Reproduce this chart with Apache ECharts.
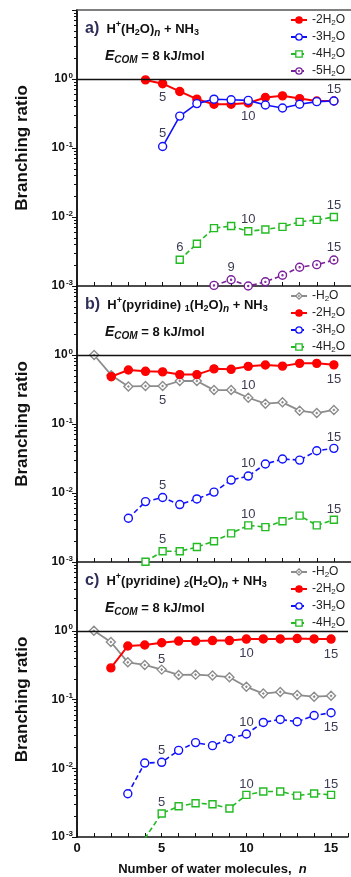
<!DOCTYPE html>
<html>
<head>
<meta charset="utf-8">
<script src="https://cdn.jsdelivr.net/npm/echarts@6/dist/echarts.min.js"></script>
<style>
  html, body { margin: 0; padding: 0; background: #fff; }
  #chart { width: 351px; height: 877px; }
</style>
</head>
<body>
<div id="chart"></div>
<script>
// number of water molecules
const nValues = [1, 2, 3, 4, 5, 6, 7, 8, 9, 10, 11, 12, 13, 14, 15];

// a) H+(H2O)n + NH3
const aLoss2 = [null, null, null, 0.97, 0.855, 0.66, 0.51, 0.43, 0.43, 0.45, 0.54, 0.57, 0.52, 0.48, 0.48];
const aLoss3 = [null, null, null, null, 0.105, 0.29, 0.44, 0.51, 0.50, 0.49, 0.42, 0.38, 0.43, 0.47, 0.48];
const aLoss4 = [null, null, null, null, null, 0.0024, 0.0041, 0.0069, 0.0074, 0.0062, 0.0066, 0.0072, 0.0085, 0.0091, 0.0100];
const aLoss5 = [null, null, null, null, null, null, null, 0.00102, 0.00123, 0.001, 0.00115, 0.00143, 0.00187, 0.00204, 0.00238];

// b) H+(pyridine)1(H2O)n + NH3
const bLoss1 = [1.0, 0.51, 0.35, 0.355, 0.355, 0.42, 0.42, 0.31, 0.31, 0.24, 0.197, 0.206, 0.156, 0.144, 0.16];
const bLoss2 = [null, 0.485, 0.607, 0.58, 0.57, 0.52, 0.52, 0.63, 0.62, 0.685, 0.716, 0.69, 0.757, 0.757, 0.72];
const bLoss3 = [null, null, 0.0043, 0.0075, 0.0086, 0.0068, 0.0082, 0.0103, 0.0154, 0.0176, 0.0263, 0.0311, 0.030, 0.041, 0.0444];
const bLoss4 = [null, null, null, 0.00101, 0.00143, 0.00143, 0.00165, 0.0020, 0.0026, 0.0034, 0.0032, 0.0039, 0.0047, 0.0034, 0.0041];

// c) H+(pyridine)2(H2O)n + NH3
const cLoss1 = [1.0, 0.686, 0.347, 0.318, 0.272, 0.228, 0.23, 0.223, 0.211, 0.153, 0.122, 0.129, 0.116, 0.11, 0.113];
const cLoss2 = [null, 0.288, 0.60, 0.62, 0.67, 0.708, 0.708, 0.72, 0.72, 0.757, 0.76, 0.76, 0.77, 0.76, 0.757];
const cLoss3 = [null, null, 0.00425, 0.0119, 0.0122, 0.0182, 0.0236, 0.0213, 0.0269, 0.0315, 0.0464, 0.0513, 0.0475, 0.0586, 0.0641];
const cLoss4 = [null, null, null, 0.00095, 0.0022, 0.0028, 0.0031, 0.0030, 0.0026, 0.0041, 0.0046, 0.0046, 0.0040, 0.0043, 0.0041];

// legend names
const lossNames = { h1: '-H2O', h2: '-2H2O', h3: '-3H2O', h4: '-4H2O', h5: '-5H2O' };

const FONT = 'Liberation Sans, Arial, sans-serif';

const circleDot = 'path://M0,-5A5,5 0 1,1 0,5A5,5 0 1,1 0,-5Z M0,-0.6A0.6,0.6 0 1,1 0,0.6A0.6,0.6 0 1,1 0,-0.6Z';
const diamondDot = 'path://M0,-5L5,0L0,5L-5,0Z M0,-0.6L0.6,0L0,0.6L-0.6,0Z';

const styles = {
  h1: { color: '#8c8c8c', symbol: diamondDot, size: 9, fill: '#fff', type: 'solid', width: 1.8 },
  h2: { color: '#ff0000', symbol: 'circle', size: 8, fill: '#ff0000', type: 'solid', width: 2 },
  h3: { color: '#1010ff', symbol: 'circle', size: 8, fill: '#fff', type: [5, 3], width: 1.6 },
  h4: { color: '#22bb22', symbol: 'rect', size: 7, fill: '#fff', type: [5, 3], width: 1.6 },
  h5: { color: '#7a1f9a', symbol: circleDot, size: 8, fill: '#fff', type: [5, 3], width: 1.6 }
};

// which points carry the n annotation: [n, position, distance]
const panels = [
  {
    tag: 'a', sub: null, top: 10,
    series: { h2: aLoss2, h3: aLoss3, h4: aLoss4, h5: aLoss5 },
    labels: {
      h2: [[5, 'bottom', 3], [10, 'bottom', 2]],
      h3: [[5, 'top', 2], [15, 'top', 0]],
      h4: [[6, 'top', 2], [10, 'top', 1], [15, 'top', 1]],
      h5: [[9, 'top', 1], [15, 'top', 1]]
    },
    solid3: true
  },
  {
    tag: 'b', sub: '1', top: 286,
    series: { h1: bLoss1, h2: bLoss2, h3: bLoss3, h4: bLoss4 },
    labels: {
      h1: [[5, 'bottom', 3], [10, 'top', 1]],
      h2: [[15, 'bottom', 3]],
      h3: [[5, 'top', 1], [10, 'top', 1], [15, 'top', 0]],
      h4: [[5, 'top', 1], [10, 'top', 0], [15, 'top', 0]]
    }
  },
  {
    tag: 'c', sub: '2', top: 562,
    series: { h1: cLoss1, h2: cLoss2, h3: cLoss3, h4: cLoss4 },
    labels: {
      h2: [[5, 'bottom', 6], [10, 'bottom', 3], [15, 'bottom', 4]],
      h3: [[5, 'top', 1], [10, 'top', 0], [15, 'bottom', 3]],
      h4: [[5, 'top', 0], [10, 'top', 0], [15, 'top', 0]]
    }
  }
];

const PLOT_H = 276;

// log minor ticks 2..9 in each decade, in exponent units
const minorTicks = [];
for (let d = -3; d <= 0; d++) {
  for (let k = 2; k <= 9; k++) minorTicks.push(d + Math.log10(k));
}

const subRich = {
  t: { fontFamily: FONT, fontSize: 12, color: '#222', lineHeight: 16 },
  s: { fontFamily: FONT, fontSize: 8, color: '#222', lineHeight: 16, padding: [6, 0, 0, 0] }
};

const option = {
  animation: false,
  backgroundColor: '#fff',
  title: [],
  legend: [],
  grid: [],
  xAxis: [],
  yAxis: [],
  series: []
};

const titleRich = {
  lab: { fontFamily: FONT, fontSize: 16, fontWeight: 'bold', color: '#2d2d58', lineHeight: 20 },
  t: { fontFamily: FONT, fontSize: 13, color: '#111', lineHeight: 20 },
  sup: { fontFamily: FONT, fontSize: 9, color: '#111', lineHeight: 20, padding: [0, 0, 9, 0] },
  sub: { fontFamily: FONT, fontSize: 9, color: '#111', lineHeight: 20, padding: [8, 0, 0, 0] },
  subi: { fontFamily: FONT, fontSize: 10, fontStyle: 'italic', color: '#111', lineHeight: 20, padding: [8, 0, 0, 0] },
  e: { fontFamily: FONT, fontSize: 14, fontStyle: 'italic', fontWeight: 'bold', color: '#111', lineHeight: 20 },
  com: { fontFamily: FONT, fontSize: 10, fontStyle: 'italic', fontWeight: 'bold', color: '#111', lineHeight: 20, padding: [8, 0, 0, 0] },
  eb: { fontFamily: FONT, fontSize: 13, fontWeight: 'bold', color: '#111', lineHeight: 20 }
};

panels.forEach((p, gi) => {
  option.grid.push({ left: 77, width: 276, top: p.top, height: PLOT_H });

  // headline
  const core = p.sub
    ? '{t|H}{sup|+}{t|(pyridine) }{sub|' + p.sub + '}{t|(H}{sub|2}{t|O)}{subi|n}{t| + NH}{sub|3}'
    : '{t|H}{sup|+}{t|(H}{sub|2}{t|O)}{subi|n}{t| + NH}{sub|3}';
  option.title.push({
    text: '{lab|' + p.tag + ')}{t|  }' + core,
    left: 85, top: p.top + 9, padding: 0,
    textStyle: { rich: titleRich }
  });
  option.title.push({
    text: '{e|E}{com|COM}{eb| = 8 kJ/mol}',
    left: 105, top: p.top + 36, padding: 0,
    textStyle: { rich: titleRich }
  });

  // x axis at the bottom of each panel
  option.xAxis.push({
    type: 'value', gridIndex: gi, min: 0, max: 16, interval: 1,
    axisLine: { show: true, onZero: false, lineStyle: { color: '#111', width: 1.5 } },
    axisTick: { show: true, inside: true, length: 4, lineStyle: { color: '#111', width: 1 } },
    axisLabel: {
      show: gi === 2, margin: 5,
      fontFamily: FONT, fontSize: 13, fontWeight: 'bold', color: '#111',
      formatter: v => (v % 5 === 0 && v <= 15 ? String(v) : '')
    },
    splitLine: { show: false },
    name: gi === 2 ? 'Number of water molecules,  {i|n}' : '',
    nameLocation: 'middle', nameGap: 26,
    nameTextStyle: {
      fontFamily: FONT, fontSize: 13, fontWeight: 'bold', color: '#111',
      rich: { i: { fontFamily: FONT, fontSize: 13, fontWeight: 'bold', fontStyle: 'italic', color: '#111' } }
    }
  });

  // main log axis
  option.yAxis.push({
    type: 'log', logBase: 10, gridIndex: gi, min: 0.001, max: 10, position: 'left',
    axisLine: { show: true, onZero: false, lineStyle: { color: '#111', width: 1.5 } },
    axisTick: { show: true, inside: false, length: 5, lineStyle: { color: '#111', width: 1 } },
    axisLabel: {
      margin: 4,
      formatter: v => {
        const e = Math.round(Math.log10(v));
        return e >= 1 ? '' : '{b|10}{s|' + e + '}';
      },
      rich: {
        b: { fontFamily: FONT, fontSize: 12, fontWeight: 'bold', color: '#111', lineHeight: 14 },
        s: { fontFamily: FONT, fontSize: 8, fontWeight: 'bold', color: '#111', lineHeight: 14, padding: [0, 0, 7, 1] }
      }
    },
    splitLine: { show: false },
    name: 'Branching ratio', nameLocation: 'middle', nameGap: 46,
    nameTextStyle: { fontFamily: FONT, fontSize: 17, fontWeight: 'bold', color: '#111' }
  });

  // legend for this panel
  const keys = Object.keys(p.series);
  option.legend.push({
    orient: 'vertical', left: 290, top: p.top + 3,
    itemWidth: 16, itemHeight: 8, itemGap: 3, padding: 0,
    data: keys.map(k => ({
      name: p.tag + ':' + k,
      itemStyle: { color: styles[k].fill, borderColor: styles[k].color, borderWidth: 1.3 }
    })),
    formatter: name => {
      const k = name.split(':')[1];
      const m = lossNames[k].match(/^-(\d?)H2O$/);
      return '{t|-' + m[1] + 'H}{s|2}{t|O}';
    },
    textStyle: { rich: subRich },
    selectedMode: false
  });

  keys.forEach((k, si) => {
    const st = styles[k];
    const lineType = (k === 'h3' && p.solid3) ? 'solid' : st.type;
    const marks = p.labels[k] || [];
    const data = nValues.map((n, i) => {
      const v = p.series[k][i];
      if (v == null) return [n, null];
      const mk = marks.find(m => m[0] === n);
      if (!mk) return [n, v];
      return {
        value: [n, v],
        label: { show: true, formatter: String(n), position: mk[1], distance: mk[2] }
      };
    });
    const s = {
      name: p.tag + ':' + k,
      type: 'line', xAxisIndex: gi, yAxisIndex: gi,
      data: data,
      symbol: st.symbol, symbolSize: st.size, showAllSymbol: true,
      connectNulls: false, clip: true,
      lineStyle: { color: st.color, width: st.width, type: lineType },
      itemStyle: { color: st.fill, borderColor: st.color, borderWidth: 1.4 },
      label: { show: false, fontFamily: FONT, fontSize: 13, color: '#3c3c55' },
      emphasis: { disabled: true },
      z: 2 + si
    };
    if (si === 0) {
      s.markLine = {
        silent: true, symbol: 'none', animation: false,
        label: { show: false },
        lineStyle: { color: '#111', width: 1.3, type: 'solid' },
        data: [{ yAxis: 1 }]
      };
    }
    option.series.push(s);
  });
});

// extra axes: top border of panel a, log minor ticks (exponent scale, ticks only)
option.xAxis.push({
  type: 'value', gridIndex: 0, position: 'top', min: 0, max: 16,
  axisLine: { show: true, onZero: false, lineStyle: { color: '#555', width: 1.5 } },
  axisTick: { show: false }, axisLabel: { show: false }, splitLine: { show: false }
});
panels.forEach((p, gi) => {
  option.yAxis.push({
    type: 'value', gridIndex: gi, min: -3, max: 1, position: 'left', offset: 0,
    axisLine: { show: true, onZero: false, lineStyle: { color: '#111', width: 1.5 } },
    axisTick: { show: true, inside: false, length: 3, customValues: minorTicks, lineStyle: { color: '#111', width: 1 } },
    axisLabel: { show: false },
    splitLine: { show: false }
  });
});

const chart = echarts.init(document.getElementById('chart'), null, { renderer: 'canvas' });
chart.setOption(option);
</script>
</body>
</html>
